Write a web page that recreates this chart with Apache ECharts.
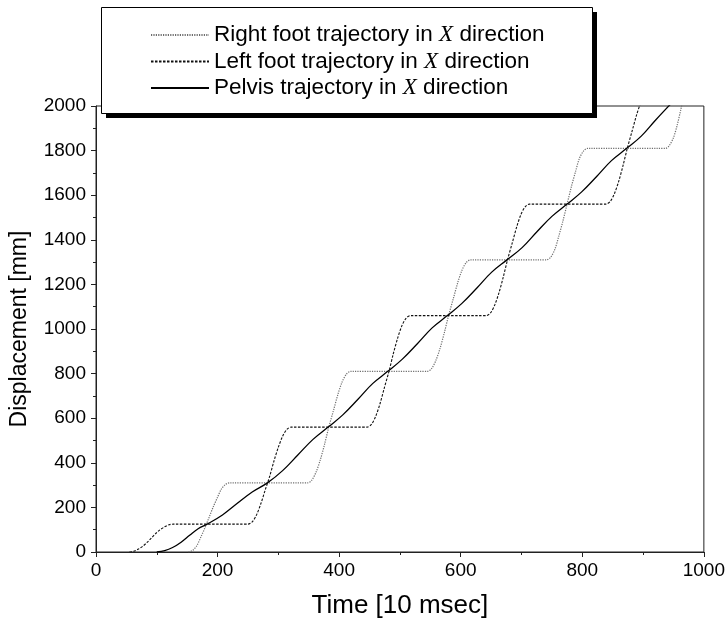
<!DOCTYPE html>
<html>
<head>
<meta charset="utf-8">
<script src="https://cdn.jsdelivr.net/npm/echarts@6/dist/echarts.min.js"></script>
<style>
  html, body { margin: 0; padding: 0; background: #fff; }
  #chart { width: 728px; height: 624px; }
</style>
</head>
<body>
<div id="chart"></div>
<script>
// Foot and pelvis displacement along X over time (time in units of 10 ms, displacement in mm)
const rightFoot = [
  [152, 0], [159, 7], [166, 29], [172, 64], [179, 107], [186, 155], [193, 203], [200, 246], [206, 281], [213, 303], [220, 310],
  [338, 310], [348, 310], [355, 322], [362, 358], [369, 413], [376, 483], [383, 560], [391, 638], [398, 707], [405, 763], [412, 798], [419, 810],
  [535, 810], [545, 810], [552, 822], [559, 858], [566, 913], [573, 983], [580, 1060], [588, 1138], [595, 1207], [602, 1263], [609, 1298], [616, 1310],
  [731, 1310], [741, 1310], [748, 1322], [755, 1358], [761, 1413], [768, 1483], [775, 1560], [782, 1638], [789, 1707], [795, 1763], [802, 1798], [809, 1810],
  [927, 1810], [937, 1810], [943, 1822], [950, 1858], [956, 1913], [962, 1983], [968, 2060], [975, 2140]
];

const leftFoot = [
  [55, 0], [62, 3], [69, 12], [77, 26], [84, 43], [91, 62], [98, 82], [105, 99], [113, 113], [120, 122], [127, 125],
  [240, 125], [250, 125], [257, 135], [264, 166], [271, 215], [278, 275], [286, 342], [293, 410], [300, 470], [307, 519], [314, 550], [321, 560],
  [436, 560], [446, 560], [453, 572], [460, 608], [467, 663], [474, 733], [482, 810], [489, 888], [496, 957], [503, 1013], [510, 1048], [517, 1060],
  [632, 1060], [642, 1060], [649, 1072], [656, 1108], [663, 1163], [670, 1233], [677, 1310], [685, 1388], [692, 1457], [699, 1513], [706, 1548], [713, 1560],
  [829, 1560], [839, 1560], [846, 1572], [853, 1608], [860, 1663], [867, 1733], [874, 1810], [882, 1888], [889, 1957], [896, 2013], [903, 2048]
];

const pelvis = [
  [100, 0], [113, 6], [126, 20], [140, 44], [154, 75], [168, 104], [183, 125],
  [208, 166], [232, 217], [257, 269], [282, 310],
  [307, 365], [332, 435], [357, 505], [382, 560],
  [406, 615], [431, 685], [455, 755], [480, 810],
  [504, 865], [529, 935], [553, 1005], [578, 1060],
  [602, 1115], [627, 1185], [651, 1255], [676, 1310],
  [701, 1365], [725, 1435], [750, 1505], [775, 1560],
  [799, 1615], [824, 1685], [848, 1755], [873, 1810],
  [897, 1865], [920, 1935], [944, 2005], [960, 2050]
];

const xTicks = { min: 0, max: 1000, step: 200 };
const yTicks = { min: 0, max: 2000, step: 200 };

const seriesNames = [
  'Right foot trajectory in X direction',
  'Left foot trajectory in X direction',
  'Pelvis trajectory in X direction'
];

const FONT = '"Liberation Sans", Arial, sans-serif';
const SERIF = '"Liberation Serif", "Times New Roman", serif';

const chart = echarts.init(document.getElementById('chart'), null, { renderer: 'canvas' });

const axisCommon = {
  axisLine: { show: true, lineStyle: { color: '#222', width: 1 } },
  axisTick: { show: true, inside: false, length: 5, lineStyle: { color: '#222' } },
  minorTick: { show: true, splitNumber: 2, length: 3, lineStyle: { color: '#222' } },
  splitLine: { show: false }
};

const plainNumber = function (v) { return String(v); };

chart.setOption({
  backgroundColor: '#fff',
  animation: false,
  grid: {
    left: 94, right: 23, top: 106, bottom: 69,
    show: true, borderColor: '#222', borderWidth: 1, backgroundColor: 'transparent'
  },
  xAxis: Object.assign({}, axisCommon, {
    type: 'value',
    min: xTicks.min, max: xTicks.max, interval: xTicks.step,
    name: 'Time [10 msec]',
    nameLocation: 'middle',
    nameGap: 41,
    nameTextStyle: { color: '#000', fontSize: 26, fontFamily: FONT },
    axisLabel: { color: '#000', fontSize: 19, fontFamily: FONT, margin: 9, formatter: plainNumber }
  }),
  yAxis: Object.assign({}, axisCommon, {
    type: 'value',
    min: yTicks.min, max: yTicks.max, interval: yTicks.step,
    name: 'Displacement [mm]',
    nameLocation: 'middle',
    nameGap: 65,
    nameTextStyle: { color: '#000', fontSize: 23, fontFamily: FONT },
    axisLabel: { color: '#000', fontSize: 19, fontFamily: FONT, margin: 10, formatter: plainNumber }
  }),
  graphic: [
    { type: 'rect', z: 10, silent: true,
      shape: { x: 106, y: 12, width: 491, height: 106 },
      style: { fill: '#000' } },
    { type: 'rect', z: 11, silent: true,
      shape: { x: 101.5, y: 7.5, width: 491, height: 106 },
      style: { fill: '#fff', stroke: '#000', lineWidth: 1 } }
  ],
  legend: {
    z: 20,
    orient: 'vertical',
    left: 150,
    top: 23,
    padding: 0,
    itemWidth: 58,
    itemHeight: 20,
    itemGap: 2.5,
    selectedMode: false,
    itemStyle: { opacity: 0 },
    data: seriesNames,
    formatter: function (name) { return name.replace(' X ', ' {x|X} '); },
    textStyle: {
      color: '#000', fontSize: 22.5, fontFamily: FONT, lineHeight: 24,
      rich: {
        x: { fontFamily: SERIF, fontStyle: 'italic', fontSize: 23, color: '#000', lineHeight: 24 }
      }
    }
  },
  series: [
    {
      name: seriesNames[0], type: 'line', data: rightFoot,
      showSymbol: false, symbol: 'none', smooth: 0.3, clip: true, z: 3,
      itemStyle: { color: '#6e6e6e' },
      lineStyle: { color: '#6e6e6e', width: 1.2, type: [1.2, 1.2] }
    },
    {
      name: seriesNames[1], type: 'line', data: leftFoot,
      showSymbol: false, symbol: 'none', smooth: 0.3, clip: true, z: 4,
      itemStyle: { color: '#111' },
      lineStyle: { color: '#111', width: 1.1, type: [2.5, 1.5] }
    },
    {
      name: seriesNames[2], type: 'line', data: pelvis,
      showSymbol: false, symbol: 'none', smooth: 0.4, clip: true, z: 5,
      itemStyle: { color: '#000' },
      lineStyle: { color: '#000', width: 1.3, type: 'solid' }
    }
  ]
});
</script>
</body>
</html>
